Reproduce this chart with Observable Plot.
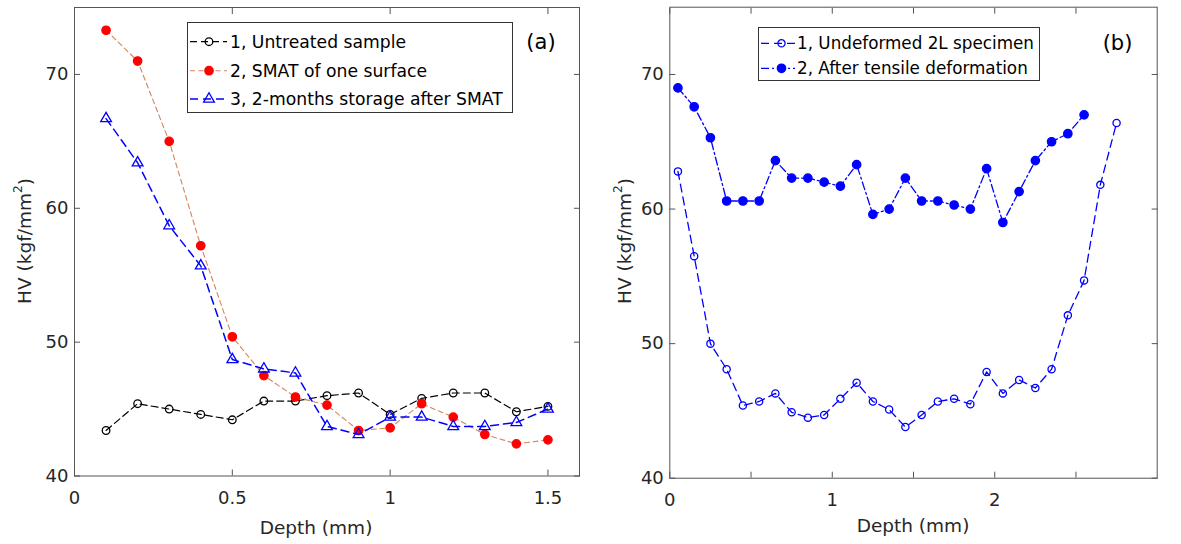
<!DOCTYPE html>
<html><head><meta charset="utf-8">
<script src="https://cdn.jsdelivr.net/npm/d3@7"></script>
<script src="https://cdn.jsdelivr.net/npm/@observablehq/plot@0.6"></script>
<style>
body{margin:0;background:#fff}
#wrap{position:relative;width:1181px;height:544px;font-family:"DejaVu Sans",sans-serif}
#wrap svg{position:absolute;top:0;overflow:visible}
</style></head><body><div id="wrap"></div>
<script>
// ---------- data ----------
const depthA = [0.1,0.2,0.3,0.4,0.5,0.6,0.7,0.8,0.9,1.0,1.1,1.2,1.3,1.4,1.5];
const untreated = [43.4,45.4,45.0,44.6,44.2,45.6,45.6,46.0,46.2,44.6,45.8,46.2,46.2,44.8,45.2];
const smat = [73.3,71.0,65.0,57.2,50.4,47.5,45.9,45.3,43.4,43.6,45.4,44.4,43.1,42.4,42.7];
const storage = [66.7,63.4,58.7,55.7,48.7,48.0,47.7,43.7,43.1,44.4,44.4,43.7,43.7,44.0,45.0];

const depthB1 = [0.05,0.15,0.25,0.35,0.45,0.55,0.65,0.75,0.85,0.95,1.05,1.15,1.25,1.35,1.45,1.55,1.65,1.75,1.85,1.95,2.05,2.15,2.25,2.35,2.45,2.55,2.65,2.75];
const undeformed = [62.8,56.5,50.0,48.1,45.4,45.7,46.3,44.9,44.5,44.7,45.9,47.1,45.7,45.1,43.8,44.7,45.7,45.9,45.5,47.9,46.3,47.3,46.7,48.1,52.1,54.7,61.8,66.4];
const depthB2 = [0.05,0.15,0.25,0.35,0.45,0.55,0.65,0.75,0.85,0.95,1.05,1.15,1.25,1.35,1.45,1.55,1.65,1.75,1.85,1.95,2.05,2.15,2.25,2.35,2.45,2.55];
const tensile = [69.0,67.6,65.3,60.6,60.6,60.6,63.6,62.3,62.3,62.0,61.7,63.3,59.6,60.0,62.3,60.6,60.6,60.3,60.0,63.0,59.0,61.3,63.6,65.0,65.6,67.0];

const yTicks = [40,50,60,70];
const xTicksA = [0,0.5,1,1.5];
const xTicksB = [0,0.5,1,1.5,2,2.5];
const xLabelsB = [0,1,2];
const legendA = ["1, Untreated sample","2, SMAT of one surface","3, 2-months storage after SMAT"];
const legendB = ["1, Undeformed 2L specimen","2, After tensile deformation"];
const xTitle = "Depth (mm)";

// ---------- styles ----------
const AX = "#555";
const TXT = "#262626";
const S = {
  a1:{line:"#000000", w:1.2, dash:"7,4", symbol:"circle", fill:"none", stroke:"#000000", r:3.8},
  a2:{line:"#d4845c", w:1.1, dash:"5,3.5", symbol:"circle", fill:"#ff0000", stroke:"#ff0000", r:4.2},
  a3:{line:"#0000ff", w:1.5, dash:"8,5", symbol:"triangle", fill:"none", stroke:"#0000ff", r:4},
  b1:{line:"#0000ff", w:1.3, dash:"8,5", symbol:"circle", fill:"none", stroke:"#0000ff", r:3.6},
  b2:{line:"#0000ff", w:1.3, dash:"8,3,2,3", symbol:"circle", fill:"#0000ff", stroke:"#0000ff", r:4.2}
};

function series(xs, ys, st){
  return [
    Plot.line(ys, {x: xs, y: ys, stroke: st.line, strokeWidth: st.w, strokeDasharray: st.dash}),
    Plot.dot(ys, {x: xs, y: ys, symbol: st.symbol, r: st.r, fill: st.fill, stroke: st.stroke, strokeWidth: 1.3})
  ];
}
function axes(xt, xl){
  const blank = () => "";
  const T = 6;
  return [
    Plot.frame({stroke: AX, strokeWidth: 1}),
    Plot.axisX(xt, {anchor:"bottom", tickSize:T, dy:-T, tickFormat: blank, label:null, stroke: AX}),
    Plot.axisX(xt, {anchor:"top", tickSize:T, dy:T, tickFormat: blank, label:null, stroke: AX}),
    Plot.axisX(xl, {anchor:"bottom", tickSize:0, tickPadding:15, label:null, tickFormat: d => String(d), fill: TXT, fontSize: 18}),
    Plot.axisY(yTicks, {anchor:"left", tickSize:T, dx:T, tickFormat: blank, label:null, stroke: AX}),
    Plot.axisY(yTicks, {anchor:"right", tickSize:T, dx:-T, tickFormat: blank, label:null, stroke: AX}),
    Plot.axisY(yTicks, {anchor:"left", tickSize:0, tickPadding:6, label:null, tickFormat: d => String(d), fill: TXT, fontSize: 18})
  ];
}

const wrap = document.getElementById("wrap");

const plotA = Plot.plot({
  width: 600, height: 544,
  marginLeft: 74, marginRight: 21, marginTop: 7, marginBottom: 68.5,
  style: {fontFamily: "DejaVu Sans", fontSize: "18px", color: TXT, background: "transparent"},
  x: {domain: [0, 1.6]},
  y: {domain: [40, 75]},
  marks: [
    ...axes(xTicksA, xTicksA),
    ...series(depthA, untreated, S.a1),
    ...series(depthA, smat, S.a2),
    ...series(depthA, storage, S.a3)
  ]
});
plotA.style.left = "0px";
wrap.appendChild(plotA);

const plotB = Plot.plot({
  width: 591, height: 544,
  marginLeft: 79.3, marginRight: 24.3, marginTop: 6.7, marginBottom: 66.3,
  style: {fontFamily: "DejaVu Sans", fontSize: "18px", color: TXT, background: "transparent"},
  x: {domain: [0, 3]},
  y: {domain: [40, 75]},
  marks: [
    ...axes(xTicksB, xLabelsB),
    ...series(depthB1, undeformed, S.b1),
    ...series(depthB2, tensile, S.b2)
  ]
});
plotB.style.left = "590px";
wrap.appendChild(plotB);

// ---------- overlay: titles, legends, panel labels ----------
function titles(svg, xc, yc, xlx, xly){
  const g = d3.select(svg).append("g").attr("fill", TXT).attr("font-family", "DejaVu Sans");
  g.append("text").attr("x", xlx).attr("y", xly).attr("text-anchor", "middle").attr("dy", "0.35em")
    .attr("font-size", 18.5).text(xTitle);
  const yt = g.append("text").attr("transform", `translate(${xc},${yc}) rotate(-90)`)
    .attr("text-anchor", "middle").attr("dy", "0.35em").attr("font-size", 18.5);
  yt.append("tspan").text("HV (kgf/mm");
  yt.append("tspan").attr("font-size", 12).attr("dy", "-0.75em").text("2");
  yt.append("tspan").attr("dy", "0.5em").text(")");
}
function legend(svg, box, rows, labels, styles, lineX0, lineX1, markX, textX, fs){
  const g = d3.select(svg).append("g").attr("font-family", "DejaVu Sans").attr("text-anchor", "start");
  g.append("rect").attr("x", box[0]).attr("y", box[1]).attr("width", box[2]).attr("height", box[3])
    .attr("fill", "#fff").attr("stroke", "#333").attr("stroke-width", 1);
  labels.forEach((lab, i) => {
    const st = styles[i], y = rows[i];
    g.append("line").attr("x1", lineX0).attr("x2", lineX1).attr("y1", y).attr("y2", y)
      .attr("stroke", st.line).attr("stroke-width", st.w).attr("stroke-dasharray", st.dash);
    const type = st.symbol === "triangle" ? d3.symbolTriangle : d3.symbolCircle;
    g.append("path").attr("d", d3.symbol().type(type).size(Math.PI * st.r * st.r)())
      .attr("transform", `translate(${markX},${y})`)
      .attr("fill", st.fill).attr("stroke", st.stroke).attr("stroke-width", 1.3);
    g.append("text").attr("x", textX).attr("y", y).attr("dy", "0.35em").attr("font-size", fs)
      .attr("text-anchor", "start").attr("fill", "#000").text(lab);
  });
}
titles(plotA, 25, 241, 316, 528);
titles(plotB, 35, 241, 323, 526);
legend(plotA, [187.5, 22.5, 325, 90], [41.7, 70.7, 99], legendA, [S.a1, S.a2, S.a3], 190, 227, 209, 230, 17.2);
legend(plotB, [168.5, 27.5, 281, 53], [43.3, 68.3], legendB, [S.b1, S.b2], 171, 205, 191.5, 207, 16.8);
d3.select(plotA).append("text").attr("x", 541).attr("y", 42).attr("dy", "0.35em").attr("text-anchor", "middle")
  .attr("font-family", "DejaVu Sans").attr("font-size", 21).attr("fill", "#000").text("(a)");
d3.select(plotB).append("text").attr("x", 527.5).attr("y", 43).attr("dy", "0.35em").attr("text-anchor", "middle")
  .attr("font-family", "DejaVu Sans").attr("font-size", 21).attr("fill", "#000").text("(b)");
</script></body></html>
